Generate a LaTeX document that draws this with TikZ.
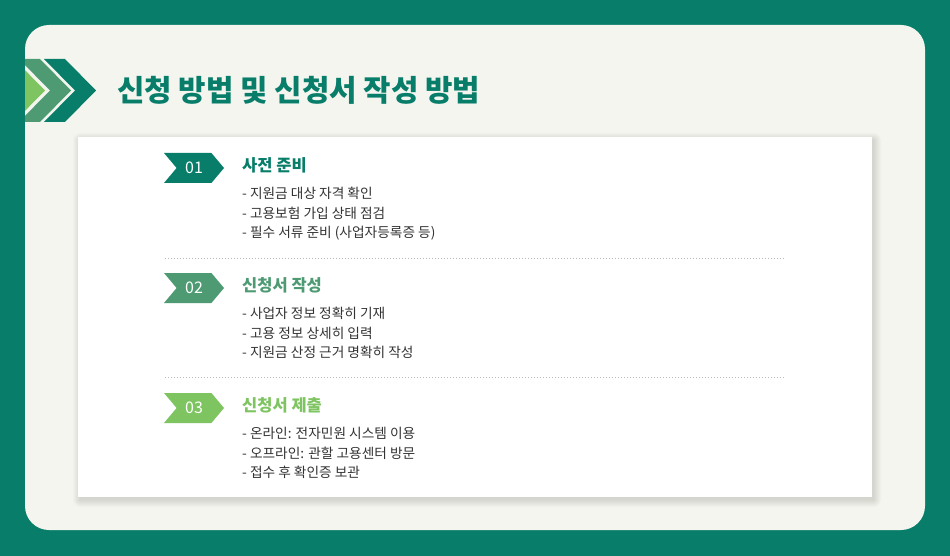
\documentclass[tikz,border=0pt]{standalone}
\usepackage{fontspec}
\setmainfont{Noto Sans CJK KR}
\usetikzlibrary{positioning, shapes.symbols}
\definecolor{deepgreen}{HTML}{087E6A}
\definecolor{midgreen}{HTML}{4E9B73}
\definecolor{lightgreen}{HTML}{7EC461}
\definecolor{paper}{HTML}{F4F5EF}
\definecolor{ink}{HTML}{333333}

\begin{document}
\begin{tikzpicture}[
        x = 1pt, y = 1pt, % pixel units
        badge/.style = {
            signal, signal to = east, signal from = west,
            signal pointer angle = 100,
            minimum width = 60pt, minimum height = 30pt, inner sep = 0pt,
            text = white, font = \fontsize{16}{16}\selectfont
        },
        steptitle/.style = {
            anchor = west, inner sep = 0pt, text height = 12pt, text depth = 3pt,
            font = \fontsize{16.5}{16.5}\selectfont\bfseries
        },
        item/.style = {
            inner sep = 0pt, text height = 10pt, text depth = 3pt,
            text = ink, font = \fontsize{13.7}{13.7}\selectfont
        },
        sep/.style = {draw = gray!55, line width = 1pt, dash pattern = on 1pt off 2pt},
        chev/.style = {line width = 0pt}
    ]
    \useasboundingbox (0,0) rectangle (950,-556);
    \fill[deepgreen] (0,0) rectangle (950,-556);
    \fill[paper, rounded corners = 24pt] (25,-25) rectangle (925,-530);

    % chevrons next to the heading
    \begin{scope}
        \clip (25,-25) rectangle (925,-530);
        \fill[chev, lightgreen] (-7,-59) -- ++(21,0) -- ++(31,-31.5) -- ++(-31,-31.5)
            -- ++(-21,0) -- ++(31,31.5) -- cycle;
        \fill[chev, midgreen] (19,-59) -- ++(21,0) -- ++(31,-31.5) -- ++(-31,-31.5)
            -- ++(-21,0) -- ++(31,31.5) -- cycle;
        \fill[chev, deepgreen] (44,-59) -- ++(21,0) -- ++(31,-31.5) -- ++(-31,-31.5)
            -- ++(-21,0) -- ++(31,31.5) -- cycle;
    \end{scope}

    \node[anchor = west, inner sep = 0pt, text = deepgreen,
        font = \fontsize{29.8}{29.8}\selectfont\bfseries] (heading) at (117,-90)
        {신청 방법 및 신청서 작성 방법};

    % white card with a soft shadow
    \foreach \s in {0,...,7}
        \fill[black, opacity = 0.016, rounded corners = \s pt]
            (80-\s,-140+\s) rectangle (874+\s,-500-\s);
    \fill[white] (78,-137) rectangle (872,-497);

    % step 1
    \node[badge, fill = deepgreen] (b1) at (194,-168) {01};
    \node[steptitle, text = deepgreen] (t1) at (242,-167) {사전 준비};
    \node[item, below right = 14pt and 0pt of t1.south west] (i11) {- 지원금 대상 자격 확인};
    \node[item, below right = 6pt and 0pt of i11.south west] (i12) {- 고용보험 가입 상태 점검};
    \node[item, below right = 6pt and 0pt of i12.south west] (i13) {- 필수 서류 준비 (사업자등록증 등)};

    \draw[sep] (165,-258) -- (785,-258);

    % step 2
    \node[badge, fill = midgreen] (b2) at (194,-288) {02};
    \node[steptitle, text = midgreen] (t2) at (242,-287) {신청서 작성};
    \node[item, below right = 14pt and 0pt of t2.south west] (i21) {- 사업자 정보 정확히 기재};
    \node[item, below right = 6pt and 0pt of i21.south west] (i22) {- 고용 정보 상세히 입력};
    \node[item, below right = 6pt and 0pt of i22.south west] (i23) {- 지원금 산정 근거 명확히 작성};

    \draw[sep] (165,-377) -- (785,-377);

    % step 3
    \node[badge, fill = lightgreen] (b3) at (194,-408) {03};
    \node[steptitle, text = lightgreen] (t3) at (242,-407) {신청서 제출};
    \node[item, below right = 14pt and 0pt of t3.south west] (i31) {- 온라인: 전자민원 시스템 이용};
    \node[item, below right = 6pt and 0pt of i31.south west] (i32) {- 오프라인: 관할 고용센터 방문};
    \node[item, below right = 6pt and 0pt of i32.south west] (i33) {- 접수 후 확인증 보관};
\end{tikzpicture}
\end{document}
